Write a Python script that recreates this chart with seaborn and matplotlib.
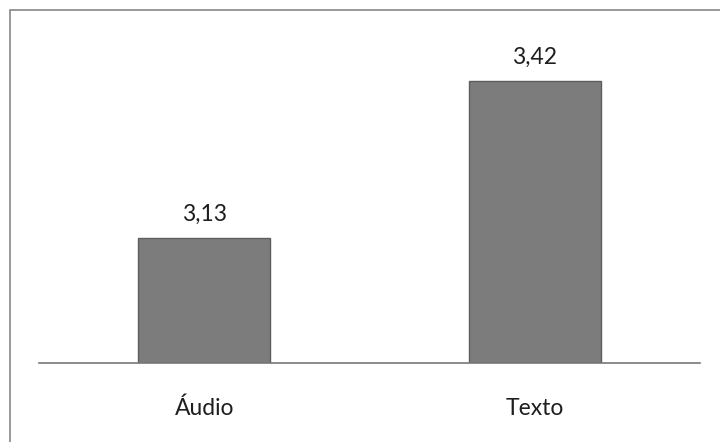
import matplotlib
matplotlib.use("Agg")
import matplotlib.pyplot as plt
import seaborn as sns
import pandas as pd
from matplotlib.patches import Rectangle

categories = ["Áudio", "Texto"]
values = [3.13, 3.42]
value_labels = ["3,13", "3,42"]

sns.set_style("white")
plt.rcParams['font.family'] = ['Lato', 'DejaVu Sans']

fig = plt.figure(figsize=(7.2, 4.42), dpi=100)
W, H = 720, 442
ax = fig.add_axes([39 / W, 1 - 363 / H, (700 - 39) / W, (363 - 38) / H])

df = pd.DataFrame({"cat": categories, "val": values})
sns.barplot(data=df, x="cat", y="val", ax=ax, color="#7c7c7c", width=0.4,
            edgecolor="#5e5e5e", linewidth=1, saturation=1)
ax.set_ylim(2.9, 3.5)
ax.set_xlim(-0.5, 1.5)

for i, (v, lab) in enumerate(zip(values, value_labels)):
    ax.annotate(lab, (i, v), xytext=(0, 10), textcoords="offset points",
                ha="center", va="bottom", fontsize=16.5, color="#1e1e1e")

for s in ["top", "right", "left"]:
    ax.spines[s].set_visible(False)
ax.spines["bottom"].set_color("#777777")
ax.spines["bottom"].set_linewidth(1.2)
ax.set_yticks([])
ax.set_xlabel("")
ax.set_ylabel("")
ax.tick_params(axis="x", length=0, pad=25, labelsize=16.5, labelcolor="#1e1e1e")

border = Rectangle((10 / W, -0.1), 1.2, 1 - 10 / H + 0.1, transform=fig.transFigure,
                   fill=False, edgecolor="#888888", linewidth=1.2, clip_on=False)
fig.patches.append(border)

fig.savefig("out.png", dpi=100)
